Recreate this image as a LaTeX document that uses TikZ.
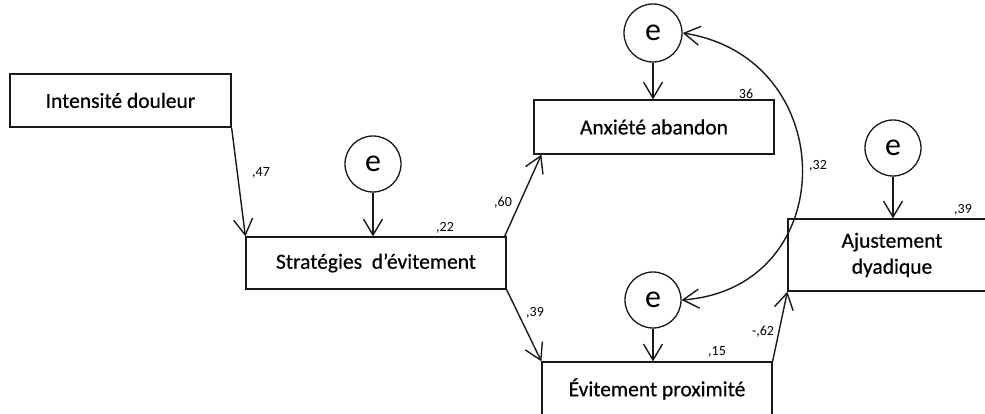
\documentclass[tikz,border=0pt]{standalone}
\usepackage{fontspec}
\setmainfont{Carlito}
\newfontfamily\boxfont{Carlito}[FakeBold=0.5]
\usetikzlibrary{arrows.meta,calc}
\begin{document}
\begin{tikzpicture}[x=1pt,y=-1pt,
  box/.style={draw=black!90,line width=1.2pt,rectangle,inner sep=0pt,font=\boxfont\fontsize{21.5}{26}\selectfont,align=center},
  err/.style={draw=black!90,line width=1.3pt,circle,minimum size=56pt,inner sep=0pt,font=\fontsize{32}{32}\selectfont},
  path/.style={draw=black!90,line width=1.4pt,-{Straight Barb[length=16pt,width=19pt,line width=1.4pt]}},
  coef/.style={font=\fontsize{14}{16}\selectfont,inner sep=0pt}]
\useasboundingbox (0,0) rectangle (985,414);
\clip (0,0) rectangle (985,414);
% boxes
\node[box,minimum width=221pt,minimum height=53pt] (int) at (120.5,100.5) {Intensité douleur};
\node[box,minimum width=260pt,minimum height=52pt] (strat) at (376,263) {Stratégies~ d’évitement};
\node[box,minimum width=240pt,minimum height=54pt] (anx) at (654,127) {Anxiété abandon};
\node[box,minimum width=230pt,minimum height=54pt] (evit) at (657,389) {Évitement proximité};
\node[box,minimum width=208pt,minimum height=72pt] (ajust) at (892,255) {Ajustement\\dyadique};
% error circles
\node[err] (e1) at (373,164) {e};
\node[err,minimum size=58pt] (e2) at (653,33) {e};
\node[err] (e3) at (653,300) {e};
\node[err] (e4) at (893,148) {e};
% paths
\draw[path] (int.south east) -- (strat.north west);
\draw[path] (e1) -- (e1 |- strat.north);
\draw[path] ([xshift=-2pt]strat.north east) -- ([xshift=8pt]anx.south west);
\draw[path] (strat.south east) -- (evit.north west);
\draw[path] (e2) -- (e2 |- anx.north);
\draw[path] (e3) -- (e3 |- evit.north);
\draw[path] (evit.north east) -- (ajust.south west);
\draw[path] (e4) -- (e4 |- ajust.north);
% correlation
\draw[draw=black!90,line width=1.4pt,{Straight Barb[length=16pt,width=19pt,line width=1.4pt]}-{Straight Barb[length=16pt,width=19pt,line width=1.4pt]}]
  (e2.east) .. controls (842,58) and (842,288) .. (e3.east);
% coefficients
\node[coef] (c47) at (261,173) {,47};
\node[coef] (c22) at (445,228) {,22};
\node[coef] (c60) at (503,203) {,60};
\node[coef] (c36) at (746,94) {36};
\node[coef] (c32) at (818,166) {,32};
\node[coef] (c39a) at (535,313) {,39};
\node[coef] (c15) at (717,352) {,15};
\node[coef] (c62) at (763,332) {-,62};
\node[coef] (c39b) at (963,210) {,39};
\end{tikzpicture}
\end{document}
